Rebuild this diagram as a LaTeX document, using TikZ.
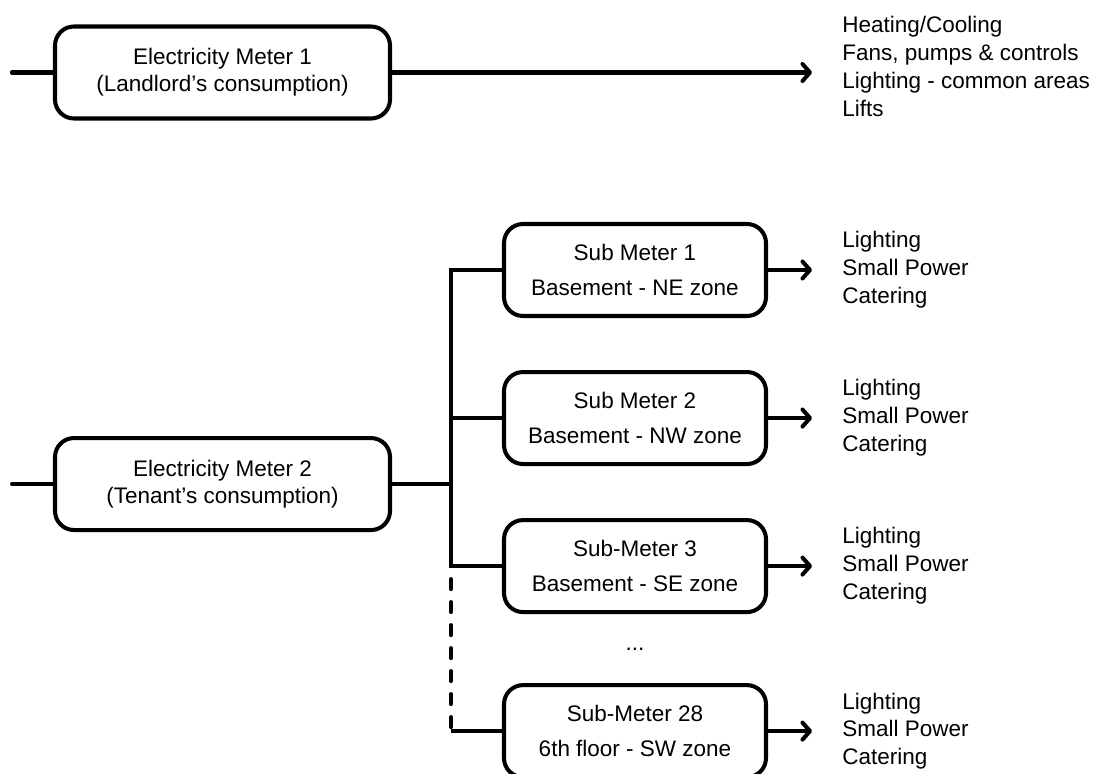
\documentclass[tikz,border=0pt]{standalone}
\usepackage{fontspec}
\setmainfont{Liberation Sans}
\usetikzlibrary{arrows.meta, positioning, calc}
\definecolor{emInk}{HTML}{000000}
\tikzset{
  meter/.style={
    draw=emInk, line width=2.3pt, rounded corners=0.38cm,
    fill=white, inner sep=0pt, align=center,
    font=\fontsize{12.8}{15.4}\selectfont, text=emInk,
    minimum width=6.7cm, minimum height=1.84cm
  },
  submeter/.style={meter, minimum width=5.24cm, font=\fontsize{12.8}{19.9}\selectfont},
  wire/.style={line width=2.3pt, draw=emInk},
  feed/.style={wire, -{Straight Barb[length=1.5mm, width=3.4mm, round]}},
  loads/.style={font=\fontsize{12.8}{15.9}\selectfont, text=emInk, align=left, inner sep=0pt},
}

\begin{document}
\begin{tikzpicture}
  \useasboundingbox (0,0) rectangle (22.02,-15.48);
  % main meters
  \node[meter] (m1) at (4.45,-1.45) {Electricity Meter 1\\(Landlord's consumption)};
  \node[meter, below=6.31cm of m1] (m2) {Electricity Meter 2\\(Tenant's consumption)};
  \coordinate[left=0.82cm of m1] (in1);
  \coordinate[left=0.82cm of m2] (in2);
  \draw[wire, line cap=round] (in1) -- (m1);
  \draw[wire, line cap=round] (in2) -- (m2);
  \coordinate[right=8.4cm of m1] (o0);
  \draw[feed] (m1) -- (o0);
  \node[loads, right=0.6cm of o0, yshift=0.12cm] (l0)
    {Heating/Cooling\\Fans, pumps \& controls\\Lighting - common areas\\Lifts};
  % sub meters
  \node[submeter] (s1) at (12.7,-5.4) {Sub Meter 1\\Basement - NE zone};
  \node[submeter, below=1.04cm of s1] (s2) {Sub Meter 2\\Basement - NW zone};
  \node[submeter, below=1.04cm of s2] (s3) {Sub-Meter 3\\Basement - SE zone};
  \node[submeter, below=1.38cm of s3] (s28) {Sub-Meter 28\\6th floor - SW zone};
  \node[font=\fontsize{12.8}{15.4}\selectfont, inner sep=0pt, below=0.68cm of s3] (gap) {...};
  % bus
  \coordinate[right=1.18cm of m2] (j2);
  \draw[wire] (m2) -- (j2);
  \draw[wire] (s1.west) -- (s1.west -| j2) -- (s3.west -| j2) -- (s3.west);
  \draw[wire] (s2.west) -- (s2.west -| j2);
  \draw[wire, line cap=round, dash pattern=on 0.2cm off 0.26cm]
    ([yshift=-0.26cm]s3.west -| j2) -- (s28.west -| j2);
  \draw[wire] (s28.west -| j2) -- (s28.west);
  % loads
  \coordinate[right=0.88cm of s1] (o1);
  \coordinate[right=0.88cm of s2] (o2);
  \coordinate[right=0.88cm of s3] (o3);
  \coordinate[right=0.88cm of s28] (o28);
  \draw[feed] (s1) -- (o1);
  \draw[feed] (s2) -- (o2);
  \draw[feed] (s3) -- (o3);
  \draw[feed] (s28) -- (o28);
  \node[loads, right=0.6cm of o1] (l1) {Lighting\\Small Power\\Catering};
  \node[loads, right=0.6cm of o2] (l2) {Lighting\\Small Power\\Catering};
  \node[loads, right=0.6cm of o3] (l3) {Lighting\\Small Power\\Catering};
  \node[loads, right=0.6cm of o28] (l28) {Lighting\\Small Power\\Catering};
\end{tikzpicture}
\end{document}
